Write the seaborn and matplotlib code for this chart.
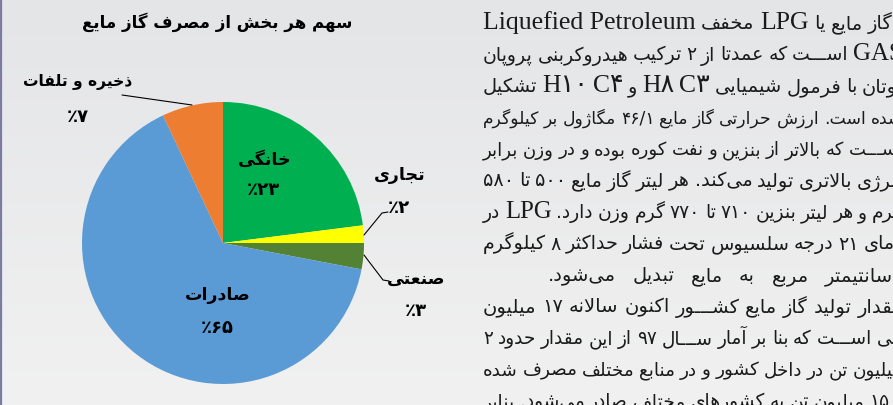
import re
import numpy as np
import matplotlib
matplotlib.use("Agg")
import matplotlib.pyplot as plt
from matplotlib.colors import LinearSegmentedColormap
from matplotlib.font_manager import FontProperties
import seaborn as sns

K = "\u0640"      # kashida
ZWNJ = "\u200c"

# ---------------- data ----------------
sectors = ["خانگی", "تجاری", "صنعتی", "صادرات", "ذخیره و تلفات"]
shares = [23, 2, 3, 65, 7]
sector_colors = ["#00b050", "#ffff00", "#548235", "#5b9bd5", "#ed7d31"]
chart_title = "سهم هر بخش از مصرف گاز مایع"

body_lines = [
    ["گاز", "مایع", "یا", "LPG", "مخفف", "Liquefied Petroleum"],
    ["GAS", "اس" + K * 3 + "ت", "که", "عمدتا", "از", "2", "ترکیب", "هیدروکربنی", "پروپان"],
    ["بوتان", "با", "فرمول", "شیمیایی", "C3", "H8", "و", "C4", "H10", "تشکیل"],
    ["شده", "است.", "ارزش", "حرارتی", "گاز", "مایع", "46/1", "مگاژول", "بر", "کیلوگرم"],
    ["اس" + K * 3 + "ت", "که", "بالاتر", "از", "بنزین", "و", "نفت", "کوره", "بوده", "و", "در", "وزن", "برابر"],
    ["انرژی", "بالاتری", "تولید", "می" + ZWNJ + "کند.", "هر", "لیتر", "گاز", "مایع", "500", "تا", "580"],
    ["گرم", "و", "هر", "لیتر", "بنزین", "710", "تا", "770", "گرم", "وزن", "دارد.", "LPG", "در"],
    ["دمای", "21", "درجه", "سلسیوس", "تحت", "فشار", "حداکثر", "8", "کیلوگرم"],
    ["سانتیمتر", "مربع", "به", "مایع", "تبدیل", "می" + ZWNJ + "شود."],
    ["مقدار", "تولید", "گاز", "مایع", "کش" + K * 3 + "ور", "اکنون", "سالانه", "17", "میلیون"],
    ["تنی", "اس" + K * 3 + "ت", "که", "بنا", "بر", "آمار", "س" + K * 3 + "ال", "97", "از", "این", "مقدار", "حدود", "2"],
    ["میلیون", "تن", "در", "داخل", "کشور", "و", "در", "منابع", "مختلف", "مصرف", "شده"],
    ["و", "15", "میلیون", "تن", "به", "کشورهای", "مختلف", "صادر", "می" + ZWNJ + "شود.", "بنابر"],
]

# ---------------- Persian shaping (contextual forms + RTL order) ----------------
JT = {
    "\u0621": (0xFE80, "U"), "\u0622": (0xFE81, "R"), "\u0623": (0xFE83, "R"),
    "\u0624": (0xFE85, "R"), "\u0625": (0xFE87, "R"), "\u0626": (0xFE89, "D"),
    "\u0627": (0xFE8D, "R"), "\u0628": (0xFE8F, "D"), "\u0629": (0xFE93, "R"),
    "\u062A": (0xFE95, "D"), "\u062B": (0xFE99, "D"), "\u062C": (0xFE9D, "D"),
    "\u062D": (0xFEA1, "D"), "\u062E": (0xFEA5, "D"), "\u062F": (0xFEA9, "R"),
    "\u0630": (0xFEAB, "R"), "\u0631": (0xFEAD, "R"), "\u0632": (0xFEAF, "R"),
    "\u0633": (0xFEB1, "D"), "\u0634": (0xFEB5, "D"), "\u0635": (0xFEB9, "D"),
    "\u0636": (0xFEBD, "D"), "\u0637": (0xFEC1, "D"), "\u0638": (0xFEC5, "D"),
    "\u0639": (0xFEC9, "D"), "\u063A": (0xFECD, "D"), "\u0641": (0xFED1, "D"),
    "\u0642": (0xFED5, "D"), "\u0644": (0xFEDD, "D"), "\u0645": (0xFEE1, "D"),
    "\u0646": (0xFEE5, "D"), "\u0647": (0xFEE9, "D"), "\u0648": (0xFEED, "R"),
    "\u0649": (0xFEEF, "R"), "\u067E": (0xFB56, "D"), "\u0686": (0xFB7A, "D"),
    "\u0698": (0xFB8A, "R"), "\u06A9": (0xFB8E, "D"), "\u06AF": (0xFB92, "D"),
    "\u06CC": (0xFBFC, "D"), K: (0x0640, "T"),
}
LAMALEF = {"\u0622": ("\uFEF5", "\uFEF6"), "\u0623": ("\uFEF7", "\uFEF8"),
           "\u0625": ("\uFEF9", "\uFEFA"), "\u0627": ("\uFEFB", "\uFEFC")}
FA = str.maketrans("0123456789", "۰۱۲۳۴۵۶۷۸۹")


def _fwd(c):
    return c in JT and JT[c][1] in ("D", "T")


def _back(c):
    return c in JT and JT[c][1] in ("D", "R", "T")


def shape(s):
    s = s.replace("\u064A", "\u06CC").replace("\u0643", "\u06A9")
    out, i, n = [], 0, len(s)
    while i < n:
        c = s[i]
        if c == ZWNJ:
            i += 1
            continue
        if c not in JT:
            out.append(c)
            i += 1
            continue
        prev = s[i - 1] if i > 0 else ""
        nxt = s[i + 1] if i + 1 < n else ""
        jp = _fwd(prev) and _back(c)
        if c == "\u0644" and nxt in LAMALEF:
            iso, fin = LAMALEF[nxt]
            out.append(fin if jp else iso)
            i += 2
            continue
        jn = _fwd(c) and _back(nxt)
        base, t = JT[c]
        if t == "T":
            out.append(K)
        elif t == "U":
            out.append(chr(base))
        elif jp and jn:
            out.append(chr(base + 3))
        elif jp:
            out.append(chr(base + 1))
        elif jn:
            out.append(chr(base + 2))
        else:
            out.append(chr(base))
        i += 1
    return "".join(out)


def vis(t):
    t = t.translate(FA)
    if any(c in JT for c in t):
        return shape(t)[::-1]
    return t


def pct(v):
    return "\u066A" + str(v).translate(FA)


# ---------------- figure ----------------
sns.set_theme(style="white")
plt.rcParams["font.family"] = ["DejaVu Sans"]

W, H = 893, 405
fig = plt.figure(figsize=(W / 100, H / 100), dpi=100)
ax = fig.add_axes([0, 0, 1, 1])

bg = LinearSegmentedColormap.from_list("bg", ["#f1f1f1", "#e4e5e7"])
ax.imshow(np.linspace(0, 1, 256)[:, None], extent=[0, W, 0, H], origin="lower",
          cmap=bg, aspect="auto", zorder=0)

palette = sns.color_palette(sector_colors)
cx, cy, r = 223, H - 243, 141
ax.pie(shares, colors=palette, startangle=90, counterclock=False,
       center=(cx, cy), radius=r, frame=True,
       wedgeprops=dict(linewidth=0, zorder=2))
ax.set_xlim(0, W)
ax.set_ylim(0, H)
ax.set_aspect("equal")
ax.axis("off")

# left border of the panel
ax.plot([0.8, 0.8], [0, H], color="#7c7ca3", lw=1.6, zorder=5)


def Y(y):
    return H - y


lab_font = dict(family="DejaVu Sans", fontweight="bold", color="black", zorder=4)
ax.text(217, Y(22), vis(chart_title), ha="center", va="center", fontsize=12, **lab_font)

label_pos = [(265, 160, 263, 190), (400, 175, 399, 208), (416, 279, 416, 311),
             (218, 295, 217, 328), (78, 82, 78, 117)]
label_size = [12.5, 12.5, 12.5, 12.5, 11.2]
for name, v, (x1, y1, x2, y2), fs in zip(sectors, shares, label_pos, label_size):
    ax.text(x1, Y(y1), vis(name), ha="center", va="center", fontsize=fs, **lab_font)
    ax.text(x2, Y(y2), pct(v), ha="center", va="center", fontsize=13, **lab_font)

leaders = [
    [(122, 95), (192, 105)],
    [(364, 235), (382, 213), (388, 212)],
    [(364, 255), (383, 280), (389, 281)],
]
for pts in leaders:
    xs, ys = zip(*pts)
    ax.plot(xs, [Y(v) for v in ys], color="black", lw=0.8, zorder=4)

# ---------------- body text (justified RTL paragraph) ----------------
renderer = fig.canvas.get_renderer()
FA_SIZE, LA_SIZE = 14, 18.5
edges = {0: (483, 893), 8: (548, 893)}
for i, toks in enumerate(body_lines):
    left, right = edges.get(i, (483, 903))
    base_y = Y(22 + 31.5 * i + 7)
    order = list(reversed(toks))
    objs = []
    for t in order:
        latin = bool(re.search("[A-Za-z]", t))
        fp = FontProperties(family=["Liberation Serif", "DejaVu Sans"] if latin else "DejaVu Sans",
                            size=LA_SIZE if latin else FA_SIZE)
        objs.append(ax.text(0, base_y, vis(t), fontproperties=fp, ha="left",
                            va="baseline", color="#1b1b1b", zorder=3))
    widths = [o.get_window_extent(renderer).width for o in objs]
    avail = right - left
    min_gap = 4.5
    if sum(widths) + min_gap * (len(widths) - 1) > avail:
        s = (avail - min_gap * (len(widths) - 1)) / sum(widths)
        for o in objs:
            o.set_fontsize(o.get_fontsize() * s)
        widths = [o.get_window_extent(renderer).width for o in objs]
    gap = (avail - sum(widths)) / (len(widths) - 1)
    x = left
    for o, w in zip(objs, widths):
        o.set_x(x)
        x += w + gap

fig.savefig("out.png", dpi=100)
